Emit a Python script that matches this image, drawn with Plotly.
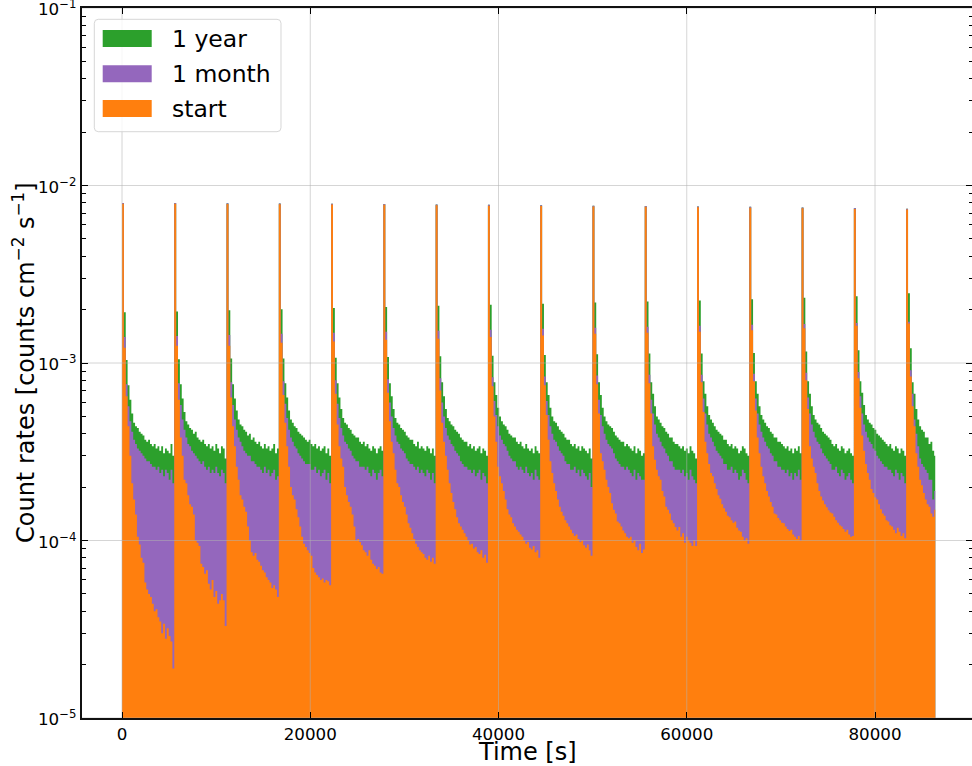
import math
import plotly.graph_objects as go

# ---------------- data (rates in units of 1e-5 counts cm^-2 s^-1) ----------------
RATE_UNIT = 1e-5
ORBIT_START_S = [0, 5554, 11108, 16662, 22216, 27770, 33324, 38878,
                 44432, 49986, 55540, 61094, 66648, 72202, 77756, 83310]
ORBIT_PERIOD_S = 5554
BINS_PER_ORBIT = 28
END_TIME_S = 86400

YEAR_RATE = [
    [798,193,104,75,62,52,46,44,43,41,40,39,37,36,37,35,34,35,33,34,32,34,31,33,32,31,35,30],
    [796,195,105,76,63,53,47,45,43,42,40,41,38,37,36,37,35,34,35,33,34,32,35,33,31,34,33,29],
    [794,198,106,76,63,54,48,45,44,42,41,39,40,37,38,36,35,36,34,33,35,33,34,32,33,35,31,33],
    [792,201,106,77,64,54,48,46,44,43,41,40,39,38,37,36,37,35,34,35,33,34,32,33,34,31,33,30],
    [790,204,107,77,64,55,49,46,45,43,42,40,39,38,38,36,35,36,34,35,33,32,34,33,31,33,34,32],
    [786,207,108,77,65,55,49,46,45,43,42,41,39,38,37,37,35,34,36,33,34,33,32,34,33,31,33,30],
    [782,210,109,78,65,55,49,47,45,44,42,41,40,38,37,36,36,34,35,33,34,32,33,34,31,33,32,30],
    [778,213,110,78,66,56,50,47,45,44,42,40,39,38,38,36,35,36,34,33,35,33,32,33,31,34,32,31],
    [774,216,111,78,66,56,50,47,46,44,42,41,40,38,37,37,35,34,35,33,34,32,34,33,32,31,33,29],
    [770,219,112,78,66,56,50,47,45,44,43,41,39,38,37,36,36,34,35,34,33,32,34,31,33,32,30,31],
    [766,222,113,78,67,57,50,48,46,44,43,41,40,38,38,36,35,35,34,33,34,32,33,31,34,32,31,29],
    [762,225,113,79,67,57,51,48,46,44,42,41,40,39,37,37,35,34,35,33,34,33,31,32,34,33,31,30],
    [758,229,114,79,67,57,51,48,46,44,43,41,40,38,38,36,36,35,34,33,34,32,33,31,33,32,34,31],
    [752,233,116,79,67,57,51,48,46,45,43,41,40,39,38,37,35,34,35,33,32,34,33,31,32,33,31,30],
    [746,238,118,79,68,58,51,48,46,45,43,42,40,39,38,37,36,35,34,35,33,32,34,33,31,33,32,30],
    [740,247,121,78,67,55,48,44,42,41,38,38,35,36,32,30],
]

MONTH_RATE = [
    [798,140,76,57,47,41,37,35,33,32,31,30,29,28,28,27,26,26,25,26,24,25,23,25,24,22,25,21],
    [796,142,77,58,48,42,38,35,34,32,31,30,29,28,27,28,26,25,26,24,25,24,26,24,23,25,24,21],
    [794,144,78,58,48,42,38,36,34,32,31,30,30,28,28,27,26,26,25,24,26,24,25,23,24,25,22,23],
    [792,146,79,59,49,42,38,36,34,33,31,30,29,28,27,27,27,25,25,26,24,25,23,24,25,22,24,21],
    [790,148,80,59,49,43,39,36,35,33,32,30,29,28,28,26,26,26,25,26,24,23,25,24,22,24,25,23],
    [786,150,81,60,50,43,39,36,35,33,32,31,29,28,27,27,26,25,26,24,25,24,23,25,24,22,24,21],
    [782,152,82,60,50,43,39,37,35,34,32,31,30,28,27,26,26,25,25,24,25,23,24,25,22,24,23,21],
    [778,154,83,61,51,44,39,37,35,34,32,30,29,28,28,26,25,26,25,24,26,24,23,24,22,25,23,22],
    [774,156,84,61,51,44,40,37,36,34,32,31,30,28,27,27,25,25,26,24,25,23,25,24,23,22,24,20],
    [770,158,85,62,51,44,40,37,35,34,33,31,29,28,27,26,26,25,26,25,24,23,25,22,24,23,22,22],
    [766,160,86,62,52,45,40,38,36,34,33,31,30,28,28,26,25,25,25,24,25,23,24,22,25,23,22,21],
    [762,162,86,63,52,45,40,38,36,34,32,31,30,29,27,27,25,25,26,24,25,24,22,23,25,24,22,21],
    [758,164,87,63,52,45,41,38,36,34,33,31,30,28,28,26,26,25,25,24,25,23,24,22,24,23,25,22],
    [752,166,88,64,52,45,41,38,36,35,33,31,30,29,28,27,25,25,26,24,23,25,24,22,23,24,22,21],
    [746,168,89,65,52,45,41,38,36,35,33,32,30,29,28,27,26,26,25,25,24,23,25,24,22,24,23,21],
    [740,171,91,67,48,40,34,29,27,26,25,24,22,22,17,19],
]

START_RATE = [
    [790,122,65,44,30,21,17,14,10.5,9.5,8,7.5,5.8,5.3,5,4.8,4.4,4,4.1,3.7,3.5,3,3.4,2.8,3.2,2.9,2.7,1.9],
    [788,125,62,38,30,22,21,18,16,15.5,14,10,9.7,9.3,7.4,7.1,6.5,6.8,5.7,5.3,6,4.8,5.2,4.4,4.6,5,4.6,3.3],
    [786,125,64,44,34,26,22,18,17,15.5,14.5,12,10,8.6,8.2,8.5,7.8,7.6,7.2,6.8,6.6,6.2,6,5.8,5.4,5.6,5.3,4.8],
    [784,130,66,46,34,26,20,18,17,15,13.5,12,10.5,9.6,9.2,8.8,8.5,8.2,7,6.6,6.4,6.2,6,6.1,5.8,6,5.9,5.6],
    [782,132,67,45,34,29,26,20,18,16.5,15.5,14,12,10,10.2,9.8,9.4,8.8,8.6,8.2,8.8,7.8,7.4,7.2,6.9,7.1,6.6,6.5],
    [778,135,68,47,36,31,25,21,20,18,16.5,15.5,14,12.5,11.8,11,10.2,9.6,9.2,8.8,8.6,8.4,8,7.8,8.2,7.6,8,7.4],
    [774,137,70,46,36,30,25,21,18.5,16.5,15,13.5,12.5,12,11.5,11,10.5,10,9.5,9.6,9,9.2,8.6,8.4,8.8,8,8.3,7.5],
    [770,140,74,50,36,26,23,21,19,17,15,14,13.5,12.5,12,11.5,11.2,10.8,10.5,10,9.6,9.8,9.1,8.9,9.3,8.6,8.8,8.0],
    [766,143,75,51,37,28,24,21,19,17,15.5,14.5,13.8,13,12.5,12,11.5,11,10.6,10.8,10.2,9.8,10,9.4,9.1,9.5,8.8,8.2],
    [762,146,76,52,31,28,25,22,20,18.5,16.2,14.9,14.2,12.8,12.5,12,11.4,11,10.5,10.3,10.5,9.7,10,9.2,8.8,9.6,8.5,8.9],
    [758,148,77,52,34,28.5,25,23,22,19,17.7,15.5,14.9,14.2,13,12.5,11.9,11.4,11.9,10.5,11,9.7,10.5,10,9.7,9.3,10,9.3],
    [754,150,78,53,36,31,27,24,23,21,19.5,18,17.2,16,15.2,14.5,13.8,13.5,13,12.6,12.8,11.8,11.4,11.2,10.5,10,10.3,9.6],
    [750,153,79,54,38,31,26,23,21,19,17.7,16.5,15.5,14.2,14,13.4,13,12.6,12.5,12,11.6,11.3,11.5,10.8,10.5,10.2,10.6,10],
    [744,157,80,55,34,29,26,24,21,19,17.7,16.8,16,15.4,14.8,14.4,14.2,13.6,13,12.6,12.2,12,11.6,11.2,11.5,10.8,10.5,10.6],
    [738,162,82,56,39,32,27,24,22,19.5,18.5,17.5,17,16,15,14.2,13.8,13,12.8,12.2,12,11.5,11,11.8,11.2,10.6,11,10.3],
    [732,167,84,57,44,31,26,22,20.5,18.5,17,16,15.5,14.2,13.6,14.9],
]

SERIES_NAMES = ["1 year", "1 month", "start"]
SERIES_COLORS = ["#2ca02c", "#9467bd", "#ff7f0e"]

X_TICKS = [0, 20000, 40000, 60000, 80000]
X_TICK_TEXT = ["0", "20000", "40000", "60000", "80000"]
Y_TICKS = [1e-5, 1e-4, 1e-3, 1e-2, 1e-1]
Y_TICK_TEXT = ["10<sup>\u22125</sup>", "10<sup>\u22124</sup>", "10<sup>\u22123</sup>",
               "10<sup>\u22122</sup>", "10<sup>\u22121</sup>"]
Y_MINOR_TICKS = [m * d for d in [1e-5, 1e-4, 1e-3, 1e-2] for m in range(2, 10)]
X_TITLE = "Time [s]"
Y_TITLE = "Count rates [counts cm<sup>\u22122</sup> s<sup>\u22121</sup>]"

X_RANGE = [-4250, 90305]
FONT = "DejaVu Sans"

# ---------------- figure ----------------
W, H = 972, 766
ML, MR, MT, MB = 82, 0, 8, 48


def step_polygon(rates):
    w = ORBIT_PERIOD_S / BINS_PER_ORBIT
    xs, ys = [], []
    for t0, orbit in zip(ORBIT_START_S, rates):
        for i, v in enumerate(orbit):
            a = t0 + i * w
            b = min(t0 + (i + 1) * w, END_TIME_S)
            xs += [a, b]
            ys += [v * RATE_UNIT, v * RATE_UNIT]
    floor = Y_TICKS[0]
    return [xs[0]] + xs + [xs[-1]], [floor] + ys + [floor]


fig = go.Figure()
for name, color, rates in zip(SERIES_NAMES, SERIES_COLORS, [YEAR_RATE, MONTH_RATE, START_RATE]):
    xs, ys = step_polygon(rates)
    fig.add_trace(go.Scatter(x=xs, y=ys, mode="lines", fill="toself", fillcolor=color,
                             line=dict(width=0, color=color), name=name,
                             showlegend=False, hoverinfo="skip"))

grid_color = "rgba(176,176,176,0.6)"
for xv in X_TICKS:
    fig.add_trace(go.Scatter(x=[xv, xv], y=[Y_TICKS[0], Y_TICKS[-1]], mode="lines",
                             line=dict(color=grid_color, width=0.9), showlegend=False,
                             hoverinfo="skip"))
for yv in Y_TICKS:
    fig.add_trace(go.Scatter(x=X_RANGE, y=[yv, yv], mode="lines",
                             line=dict(color=grid_color, width=0.9), showlegend=False,
                             hoverinfo="skip"))
# dummy trace so that the right-hand tick axis is drawn
fig.add_trace(go.Scatter(x=[X_RANGE[0]], y=[1e-3], yaxis="y2", mode="lines",
                         line=dict(width=0), showlegend=False, hoverinfo="skip"))

pw, ph = W - ML - MR, H - MT - MB


def px(x):
    return (x - ML) / pw


def py(y):
    return (H - MB - y) / ph


# custom legend (matplotlib style)
x0, x1, y0, y1, r = 94.3, 281, 19.3, 131.7, 4
rx, ry = r / pw, r / ph
X0, X1, Y0, Y1 = px(x0), px(x1), py(y1), py(y0)
path = (f"M {X0+rx},{Y0} L {X1-rx},{Y0} Q {X1},{Y0} {X1},{Y0+ry} "
        f"L {X1},{Y1-ry} Q {X1},{Y1} {X1-rx},{Y1} L {X0+rx},{Y1} "
        f"Q {X0},{Y1} {X0},{Y1-ry} L {X0},{Y0+ry} Q {X0},{Y0} {X0+rx},{Y0} Z")
shapes = [dict(type="path", path=path, xref="paper", yref="paper",
               fillcolor="rgba(255,255,255,0.8)", line=dict(color="rgba(204,204,204,0.8)", width=1),
               layer="above")]
annotations = []
row_tops = [30, 65.3, 100]
for name, color, top in zip(SERIES_NAMES, SERIES_COLORS, row_tops):
    shapes.append(dict(type="rect", xref="paper", yref="paper",
                       x0=px(102.7), x1=px(151.7), y0=py(top + 17), y1=py(top),
                       fillcolor=color, line=dict(width=0), layer="above"))
    annotations.append(dict(text=name, xref="paper", yref="paper", x=px(170), y=py(top + 8.5),
                            xanchor="left", yanchor="middle", showarrow=False,
                            font=dict(family=FONT, size=23.5, color="black")))

# y tick labels (log axis -> annotation y is log10 of the value)
for v, t in zip(Y_TICKS, Y_TICK_TEXT):
    annotations.append(dict(text=t, xref="paper", yref="y", x=px(78), y=math.log10(v),
                            xanchor="right", yanchor="middle", showarrow=False,
                            font=dict(family=FONT, size=16.7, color="black")))
# axis titles
annotations.append(dict(text=X_TITLE, xref="paper", yref="paper", x=0.5, y=py(752),
                        xanchor="center", yanchor="middle", showarrow=False,
                        font=dict(family=FONT, size=24, color="black")))
annotations.append(dict(text=Y_TITLE, xref="paper", yref="paper", x=px(24), y=0.5,
                        xanchor="center", yanchor="middle", showarrow=False, textangle=-90,
                        font=dict(family=FONT, size=24, color="black")))

fig.update_layout(
    width=W, height=H,
    margin=dict(l=ML, r=MR, t=MT, b=MB, pad=0),
    paper_bgcolor="white", plot_bgcolor="white",
    font=dict(family=FONT, color="black"),
    showlegend=False,
    shapes=shapes, annotations=annotations,
    xaxis=dict(range=X_RANGE, tickvals=X_TICKS, ticktext=X_TICK_TEXT, showgrid=False, zeroline=False,
               showline=True, linecolor="#111", linewidth=2, mirror="ticks",
               ticks="inside", ticklen=6, tickwidth=1.3, tickcolor="black",
               tickfont=dict(family=FONT, size=16.7, color="black")),
    yaxis=dict(type="log", range=[-5, -1], tickvals=Y_TICKS, showticklabels=False, showgrid=False,
               zeroline=False, showline=True, linecolor="#111", linewidth=2,
               ticks="inside", ticklen=6, tickwidth=1.3, tickcolor="black",
               minor=dict(tickvals=Y_MINOR_TICKS, ticks="inside", ticklen=3.5, tickwidth=1,
                          tickcolor="black", showgrid=False)),
    yaxis2=dict(type="log", range=[-5, -1], overlaying="y", side="right", anchor="x",
                tickvals=Y_TICKS, showticklabels=False, showgrid=False, zeroline=False,
                showline=False, ticks="inside", ticklen=6, tickwidth=1.3, tickcolor="black",
                minor=dict(tickvals=Y_MINOR_TICKS, ticks="inside", ticklen=3.5, tickwidth=1,
                           tickcolor="black", showgrid=False)),
)

fig.write_html("out.html")
